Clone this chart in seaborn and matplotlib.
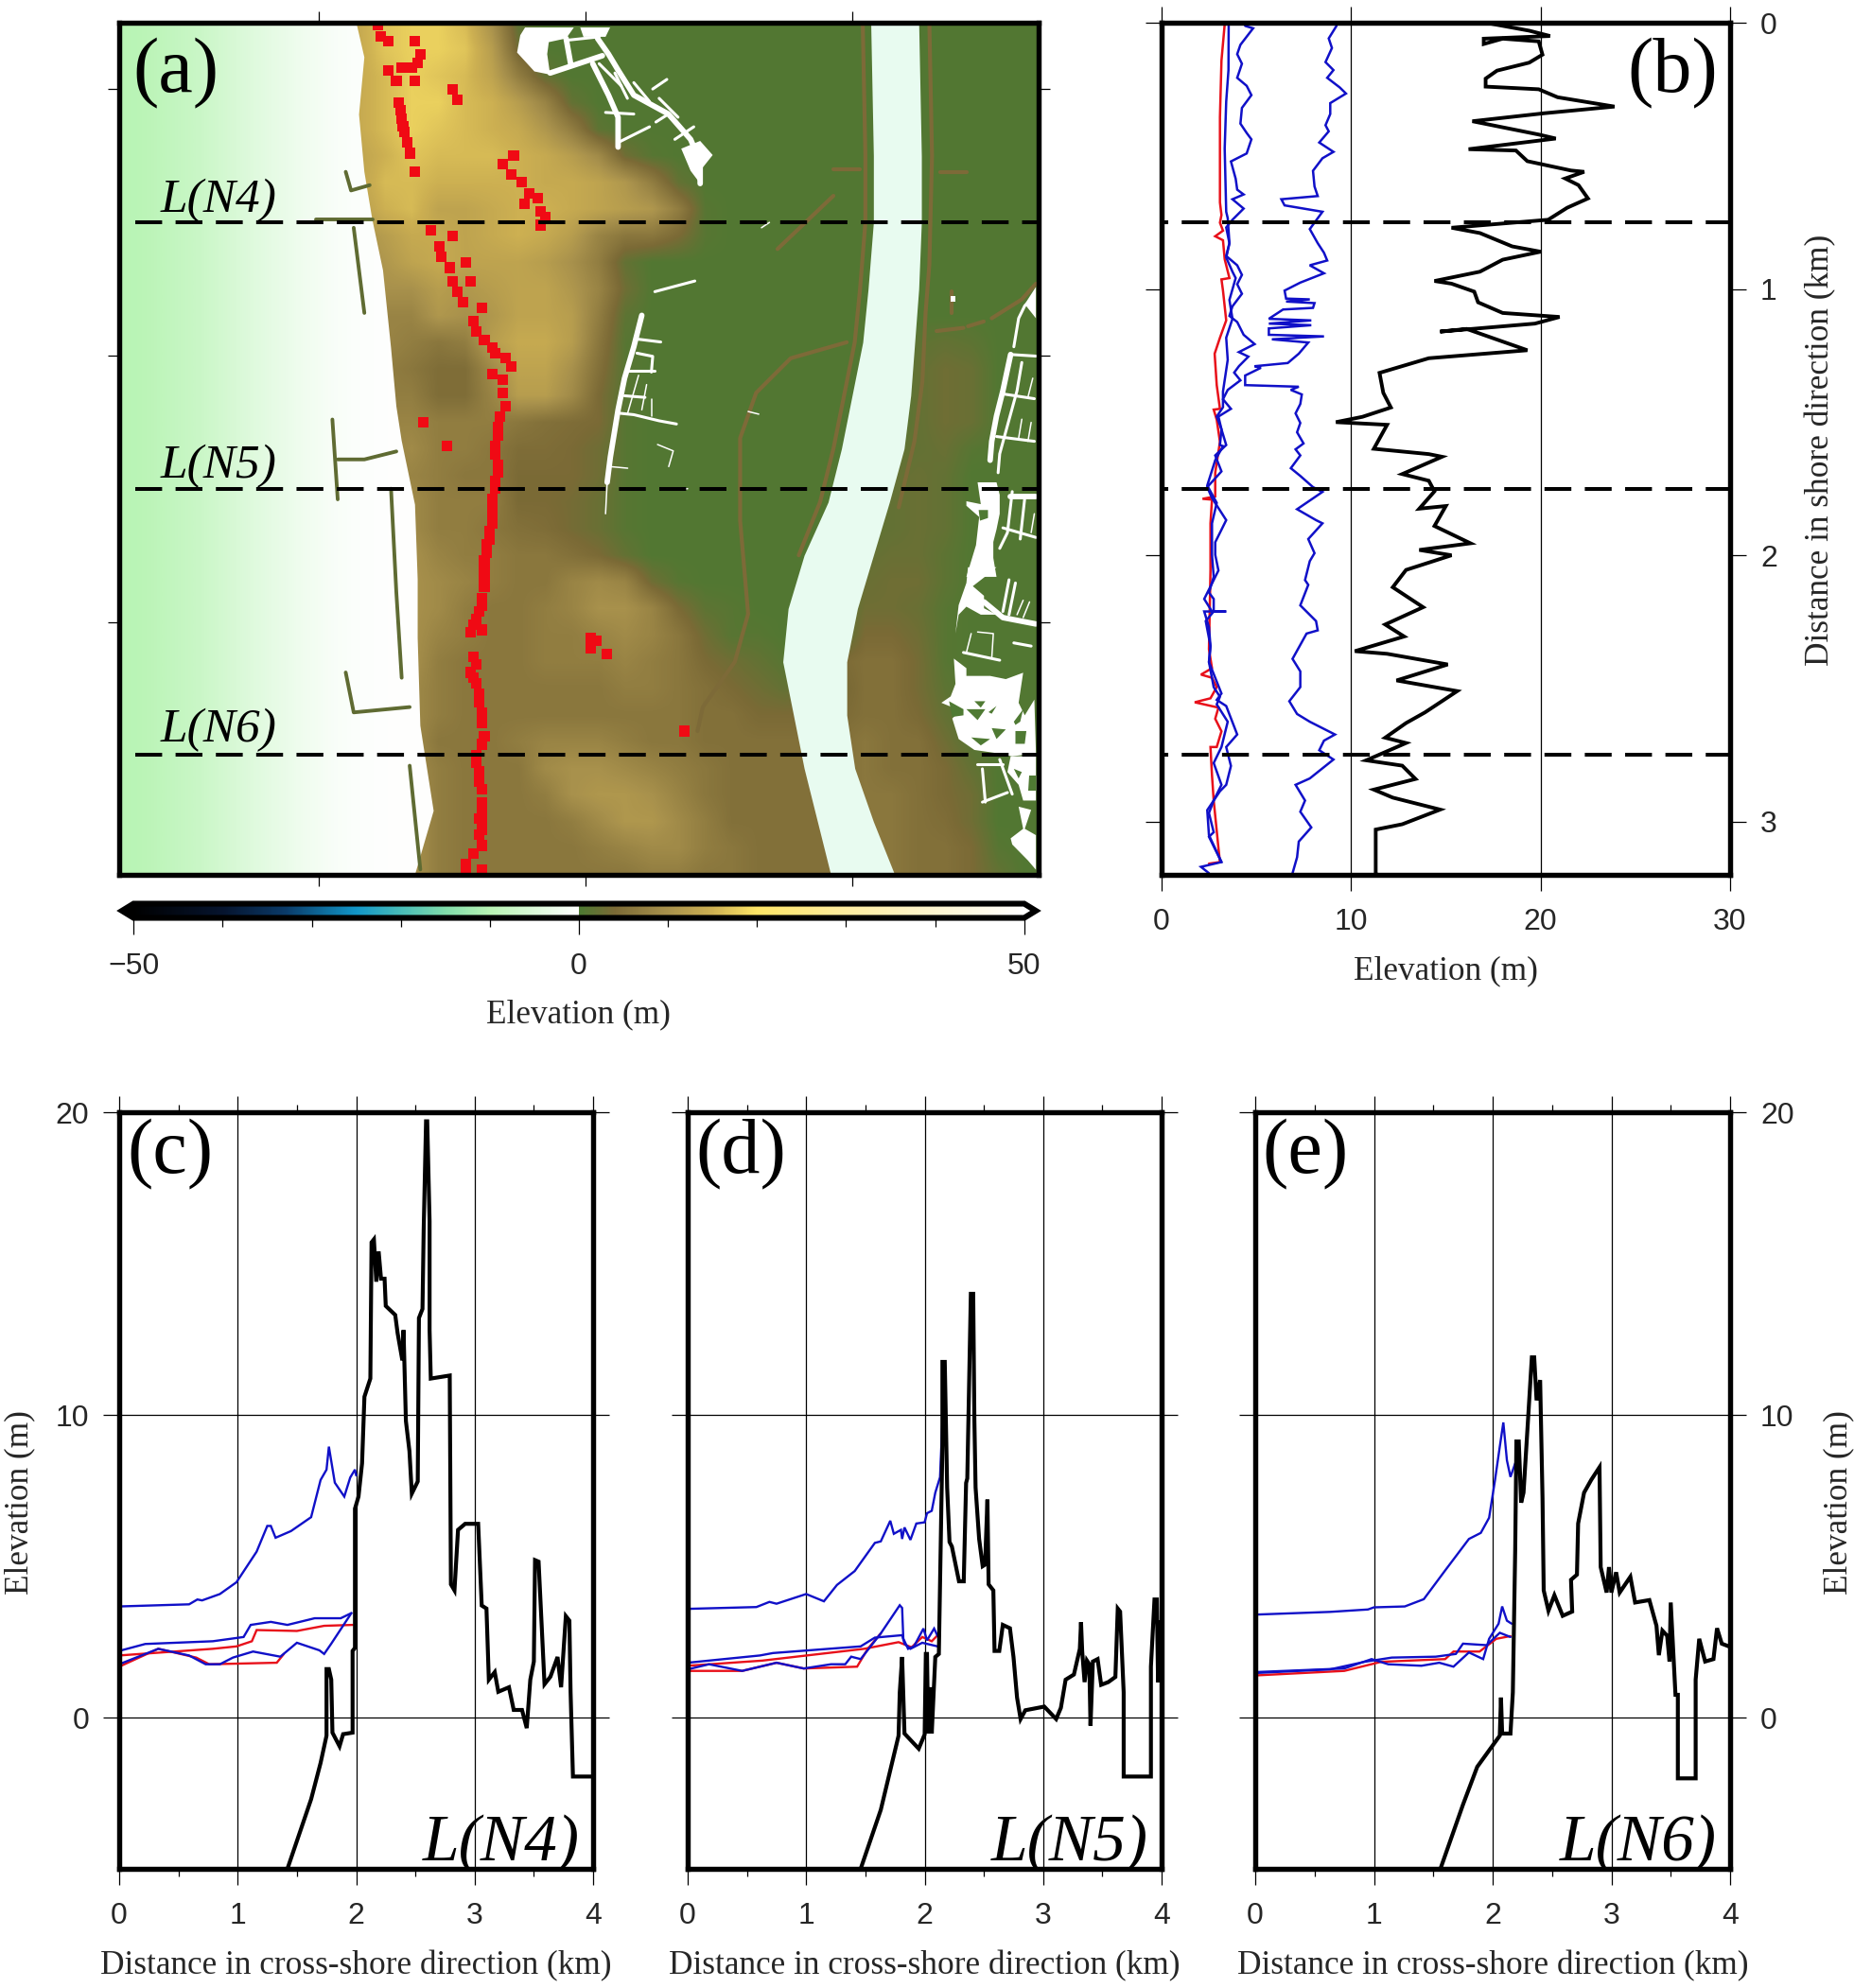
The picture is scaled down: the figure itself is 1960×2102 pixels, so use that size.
import numpy as np
import matplotlib
matplotlib.use('Agg')
import matplotlib.pyplot as plt
from matplotlib.cm import ScalarMappable
from matplotlib.colors import LinearSegmentedColormap, Normalize
from matplotlib.patches import Polygon
import seaborn as sns

# ---- panel (a) map, all in km / m ----
sea_x = [0, 0.1, 0.2, 0.3, 0.4, 0.5, 0.6, 0.7, 0.8, 0.9, 1.0, 1.1, 1.2]
sea_depth = [-10, -9.5, -8.5, -7.5, -6, -4.5, -3.2, -2, -1, -0.4, -0.2, -0.1, -0.1]

land_x0 = 0.8
land_step = 0.1
# columns from x=0.8 up to x=2.7, one row per 0.1 km alongshore
land_rows = [
    [12, 14, 17, 18, 18, 16, 10, 1.5],
    [12, 14, 17, 18, 18, 17, 12, 3],
    [12, 14, 16, 18, 17, 16, 13, 7, 2],
    [12, 14, 16, 18, 18, 16, 15, 12, 8, 2],
    [12, 14, 16, 18, 17, 16, 15, 14, 11, 7, 1.5],
    [12, 13, 15, 17, 16, 16, 16, 15, 14, 12, 9, 3, 1],
    [12, 13, 16, 16, 15, 15, 15, 15, 14, 14, 13, 11, 7, 2],
    [11, 12, 15, 16, 13, 13, 14, 15, 15, 14, 13, 12, 11, 7, 1],
    [9, 10, 12, 14, 14, 13, 14, 15, 14, 12, 8, 6, 6, 4, 1],
    [7, 9, 11, 13, 14, 13, 13, 13, 12, 10, 7, 2],
    [5, 8, 10, 10, 12, 11, 12, 13, 13, 11, 8, 3],
    [5, 7, 8, 8, 11, 10, 11, 13, 13, 12, 7, 1.5],
    [5, 6, 8, 7, 6, 7, 12, 14, 14, 12, 6, 1],
    [5, 6, 7, 6, 4.5, 4.5, 9, 13, 13, 10, 5, 1],
    [5, 6, 7, 7, 4.5, 4.5, 8, 12, 12, 9, 4, 1],
    [5, 6, 8, 8, 7, 7, 7, 6, 5, 4.5, 4, 1],
    [4, 6, 8, 9, 7, 7, 6, 4.5, 4.5, 4, 3, 1],
    [4, 6, 8, 8, 7, 6, 6, 4, 4, 4, 3, 1],
    [4, 5, 8, 9, 7, 7, 7, 4, 4, 3.5, 2.5, 1],
    [4, 5, 8, 9, 7, 7, 6, 5, 4.5, 3.5, 2.5, 1],
    [4, 5, 8, 10, 8, 7, 7, 6, 6, 5, 4, 2],
    [4, 5, 8, 10, 9, 8, 7, 6, 6, 8, 9, 8, 3, 1],
    [4, 5, 9, 10, 9, 7, 6, 6, 7, 8, 10, 10, 8, 4, 1.5, 1],
    [4, 6, 9, 10, 8, 7, 6, 6, 7, 7, 8, 9, 8, 6, 3, 1, 1],
    [4, 7, 9, 10, 7, 6, 6, 6, 7, 7, 7, 8, 7, 6, 4, 3, 2, 1, 3, 4],
    [4, 7, 9, 9, 7, 6, 6, 6, 6, 6, 6, 7, 7, 6, 5, 4, 3, 2, 3, 3],
    [5, 7, 9, 9, 7, 6, 6, 6, 6, 6, 6, 6, 6, 6, 5, 5, 4, 4, 4, 4],
    [5, 8, 10, 9, 6, 6, 6, 7, 8, 8, 8, 7, 6, 6, 5, 5, 5, 5, 5, 5],
    [5, 8, 10, 9, 7, 6, 6, 6, 9, 10, 10, 9, 8, 7, 6, 5, 5, 5, 5, 5],
    [5, 8, 10, 10, 7, 6, 6, 6, 7, 10, 11, 11, 10, 8, 6, 5, 5, 5, 5, 5],
    [5, 8, 11, 10, 7, 6, 6, 6, 6, 7, 9, 11, 11, 9, 7, 5, 5, 5, 5, 5],
    [5, 8, 11, 10, 7, 6, 6, 6, 6, 6, 7, 8, 9, 9, 7, 6, 5, 5, 5, 5],
    [5, 8, 11, 10, 7, 6, 6, 6, 6, 6, 6, 6, 7, 7, 6, 6, 5, 5, 5, 5],
]
# east of the river: columns from x=2.8
east_rows = [[], [], [], [], [], [], [], [], [], [], [], [],
             [0.5, 0.5, 1.5, 2, 1.5],
             [0.5, 0.5, 2, 3, 2.5],
             [0.5, 0.5, 2, 3, 2.5],
             [0.5, 0.5, 2, 3, 2.5],
             [0.5, 1.5, 2, 2.5, 1],
             [1.5, 2, 2.5, 2],
             [1.5, 2, 2.5, 2],
             [1.5, 2, 2.5, 2],
             [2, 2.5, 2.5, 1.5],
             [2.5, 3, 3, 1.5],
             [3, 3, 2.5, 1],
             [4, 4, 3, 1],
             [5, 5, 3.5, 1],
             [5, 5, 3.5, 1.5],
             [5, 5, 4, 2],
             [6, 5, 5, 3, 1],
             [6, 5, 5, 4, 2],
             [6, 6, 5, 4, 3],
             [6, 6, 5, 4.5, 3],
             [6, 6, 5, 5, 4, 1],
             [6, 6, 5, 5, 4, 2]]
land_green = 0.5
west_cols = 20
east_cols = 8

shore_x = [0.89, 0.92, 0.90, 0.92, 0.95, 0.99, 1.02, 1.04, 1.06, 1.11, 1.12, 1.12, 1.13, 1.18, 1.11]
shore_y = [0, 0.13, 0.345, 0.56, 0.74, 0.93, 1.22, 1.44, 1.57, 1.81, 2.09, 2.31, 2.64, 2.96, 3.2]

river_y = [0, 0.5, 0.75, 1.0, 1.2, 1.4, 1.6, 1.8, 2.0, 2.2, 2.4, 2.6, 2.8, 3.0, 3.2]
river_left = [2.82, 2.83, 2.83, 2.81, 2.79, 2.75, 2.71, 2.66, 2.57, 2.51, 2.49, 2.53, 2.57, 2.62, 2.67]
river_right = [3.0, 3.01, 3.01, 3.0, 2.985, 2.97, 2.945, 2.89, 2.83, 2.77, 2.73, 2.73, 2.76, 2.83, 2.91]

road_lines = [
    ([2.79, 2.80, 2.80, 2.78, 2.76, 2.72, 2.68, 2.63, 2.55], [0, 0.5, 0.75, 1.0, 1.2, 1.4, 1.6, 1.8, 2.0]),
    ([3.04, 3.05, 3.04, 3.026, 3.014, 2.984, 2.925], [0, 0.5, 0.909, 1.087, 1.347, 1.572, 1.82]),
    ([2.73, 2.52, 2.39, 2.33, 2.33, 2.36, 2.31, 2.19, 2.17], [1.2, 1.26, 1.39, 1.56, 1.87, 2.22, 2.4, 2.57, 2.66]),
    ([3.067, 3.168], [1.158, 1.146]),
    ([3.185, 3.244], [1.14, 1.122]),
    ([3.274, 3.387, 3.44], [1.11, 1.039, 0.98]),
    ([2.47, 2.68], [0.85, 0.65]),
    ([2.68, 2.78], [0.55, 0.55]),
    ([3.08, 3.18], [0.56, 0.56]),
    ([3.125, 3.125], [1.01, 1.09]),
]

jetties = [
    ([0.74, 0.95], [0.74, 0.74]),
    ([0.85, 0.87, 0.94], [0.56, 0.63, 0.61]),
    ([0.88, 0.92], [0.77, 1.09]),
    ([0.80, 0.82], [1.49, 1.79]),
    ([0.82, 0.92, 1.04], [1.64, 1.64, 1.61]),
    ([1.02, 1.04, 1.06], [1.75, 2.14, 2.46]),
    ([0.85, 0.88, 1.09], [2.44, 2.59, 2.57]),
    ([1.09, 1.13], [2.79, 3.18]),
]

# white (no data) streets and blocks: line width in points goes with each group
urban_thick = [
    ([1.677, 1.694], [0.059, 0.154]),
    ([1.617, 1.813], [0.189, 0.124]),
    ([1.795, 1.836, 1.872, 1.931, 2.061, 2.144, 2.18, 2.18], [0.059, 0.118, 0.178, 0.272, 0.343, 0.438, 0.521, 0.604]),
    ([1.777, 1.836, 1.872, 1.872], [0.154, 0.272, 0.355, 0.467]),
    ([1.961, 1.931, 1.896, 1.872, 1.843, 1.831], [1.099, 1.217, 1.336, 1.454, 1.631, 1.726]),
    ([3.345, 3.316, 3.292, 3.274, 3.268], [1.246, 1.382, 1.477, 1.572, 1.643]),
    ([3.345, 3.44], [1.779, 1.779]),
    ([3.245, 3.316, 3.44], [2.175, 2.234, 2.258]),
]
urban_thin = [
    ([1.688, 1.801], [0.065, 0.053]),
    ([1.825, 1.931], [0.337, 0.343]),
    ([1.872, 1.99], [0.45, 0.391]),
    ([2.002, 2.055], [0.249, 0.213]),
    ([2.026, 2.097], [0.284, 0.355]),
    ([2.014, 2.061], [0.373, 0.343]),
    ([2.085, 2.156], [0.438, 0.391]),
    ([1.86, 1.907], [0.189, 0.284]),
    ([1.931, 1.99], [0.225, 0.296]),
    ([1.801, 1.884], [0.154, 0.237]),
    ([1.872, 1.931, 2.026, 2.091], [1.466, 1.472, 1.495, 1.507]),
    ([1.896, 1.973], [1.401, 1.407]),
    ([1.908, 2.008], [1.306, 1.306]),
    ([1.943, 2.032], [1.188, 1.199]),
    ([1.943, 2.002, 1.997], [1.241, 1.253, 1.312]),
    ([2.01, 2.16], [1.01, 0.97]),
    ([3.434, 3.398, 3.375, 3.357], [1.027, 1.063, 1.11, 1.217]),
    ([3.345, 3.44], [1.246, 1.252]),
    ([3.387, 3.369, 3.333, 3.304, 3.298], [1.276, 1.382, 1.513, 1.619, 1.69]),
    ([3.316, 3.434], [1.394, 1.412]),
    ([3.292, 3.434], [1.554, 1.572]),
    ([3.351, 3.333, 3.304], [1.761, 1.915, 1.974]),
    ([3.398, 3.381], [1.785, 1.939]),
    ([3.316, 3.44], [1.897, 1.933]),
    ([3.339, 3.316], [2.092, 2.211]),
    ([3.363, 3.339], [2.104, 2.223]),
    ([3.168, 3.304], [2.365, 2.394]),
    ([3.357, 3.422], [2.329, 2.341]),
    ([3.239, 3.25], [2.802, 2.927]),
    ([3.239, 3.333], [2.927, 2.891]),
    ([3.304, 3.351], [2.767, 2.897]),
    ([3.221, 3.316], [2.785, 2.785]),
]
urban_fine = [
    ([1.831, 1.825], [1.726, 1.844]),
    ([1.949, 1.908], [1.324, 1.466]),
    ([1.979, 1.961], [1.359, 1.454]),
    ([1.997, 1.997], [1.412, 1.478]),
    ([1.843, 1.908], [1.667, 1.673]),
    ([2.02, 2.079, 2.062], [1.584, 1.608, 1.667]),
    ([2.103, 2.133], [1.752, 1.75]),
    ([3.428, 3.41], [1.335, 1.406]),
    ([3.387, 3.375], [1.489, 1.56]),
    ([3.422, 3.41], [1.501, 1.572]),
    ([3.434, 3.422], [1.844, 1.915]),
    ([3.392, 3.369], [2.169, 2.223]),
    ([3.416, 3.392], [2.175, 2.234]),
    ([3.221, 3.28, 3.274], [2.288, 2.294, 2.388]),
    ([3.197, 3.179], [2.294, 2.365]),
    ([2.36, 2.40], [1.46, 1.47]),
    ([2.41, 2.44], [0.77, 0.75]),
]
urban_blocks = [
    ([1.523, 1.706, 1.677, 1.612, 1.606, 1.617, 1.558, 1.493, 1.505], [0.018, 0.018, 0.059, 0.073, 0.118, 0.195, 0.183, 0.112, 0.047]),
    ([1.73, 1.842, 1.825, 1.742], [0.018, 0.018, 0.053, 0.053]),
    ([2.109, 2.18, 2.227, 2.18, 2.18, 2.144], [0.473, 0.444, 0.497, 0.556, 0.604, 0.556]),
    ([3.44, 3.44, 3.398], [0.992, 1.11, 1.057]),
    ([3.221, 3.292, 3.304, 3.304, 3.292, 3.28, 3.28, 3.292, 3.179, 3.215, 3.227, 3.179, 3.179, 3.233],
     [1.726, 1.726, 1.773, 1.844, 1.903, 1.95, 2.01, 2.081, 2.081, 1.962, 1.856, 1.814, 1.797, 1.808]),
    ([3.185, 3.292, 3.256, 3.203, 3.245, 3.245, 3.292, 3.233, 3.179, 3.15, 3.138, 3.15, 3.179],
     [2.045, 2.045, 2.075, 2.116, 2.152, 2.199, 2.223, 2.223, 2.193, 2.223, 2.294, 2.187, 2.104]),
    ([3.132, 3.179, 3.179, 3.268, 3.327, 3.392, 3.375, 3.398, 3.434, 3.44, 3.351, 3.292, 3.209, 3.15, 3.126, 3.156, 3.085, 3.12, 3.138],
     [2.388, 2.424, 2.453, 2.453, 2.465, 2.441, 2.554, 2.601, 2.542, 2.743, 2.755, 2.743, 2.731, 2.69, 2.613, 2.583, 2.554, 2.53, 2.483]),
    ([3.345, 3.44, 3.44, 3.392, 3.375, 3.333], [2.755, 2.755, 2.921, 2.921, 2.862, 2.814]),
    ([3.375, 3.422, 3.398, 3.44, 3.44, 3.41, 3.351, 3.345, 3.392], [2.944, 2.956, 3.027, 3.051, 3.181, 3.146, 3.086, 3.063, 3.027]),
    ([3.12, 3.136, 3.136, 3.12], [1.027, 1.027, 1.049, 1.049]),
]
urban_holes = [
    ([3.179, 3.25, 3.221], [2.578, 2.578, 2.619]),
    ([3.274, 3.327, 3.292], [2.649, 2.654, 2.69]),
    ([3.197, 3.268, 3.233], [2.684, 2.69, 2.714]),
    ([3.262, 3.292, 3.274], [2.589, 2.566, 2.595]),
    ([3.363, 3.404, 3.398, 3.363], [2.66, 2.66, 2.708, 2.708]),
    ([3.357, 3.392, 3.381, 3.363], [2.625, 2.578, 2.625, 2.637]),
    ([3.114, 3.168, 3.168, 3.126], [2.548, 2.578, 2.601, 2.607]),
    ([3.209, 3.25, 3.233], [2.548, 2.548, 2.572]),
    ([3.357, 3.387, 3.375], [2.802, 2.814, 2.838]),
    ([3.416, 3.44, 3.44, 3.41], [2.826, 2.826, 2.885, 2.885]),
    ([3.225, 3.26, 3.26, 3.23], [1.83, 1.83, 1.86, 1.87]),
]

red_x = [0.97, 0.98, 1.01, 1.11, 1.13, 1.12, 1.10, 1.01, 1.04, 1.06, 1.11, 1.25, 1.27, 1.05, 1.055, 1.06, 1.065, 1.07, 1.08, 1.09, 1.11,
         1.48, 1.44, 1.47, 1.51, 1.54, 1.52, 1.57, 1.58, 1.60, 1.58,
         1.17, 1.25, 1.20, 1.21, 1.30, 1.24, 1.25, 1.32, 1.27, 1.29,
         1.36, 1.33, 1.34, 1.37, 1.40, 1.41, 1.45, 1.47, 1.40, 1.44, 1.44, 1.45, 1.43, 1.42, 1.42, 1.41, 1.41, 1.42, 1.42, 1.41, 1.41, 1.40, 1.40, 1.40,
         1.40, 1.39, 1.39, 1.38, 1.38, 1.37, 1.37, 1.37, 1.37, 1.36, 1.36, 1.35, 1.34, 1.33, 1.32, 1.36,
         1.33, 1.32, 1.33, 1.34, 1.35, 1.36, 1.37, 1.34, 1.35, 1.35, 1.36, 1.36, 1.36, 1.35, 1.33, 1.30, 1.36, 1.30,
         1.14, 1.23, 1.77, 1.79, 1.77, 1.83, 2.12,
         1.34, 1.35, 1.36, 1.36, 1.34, 1.36, 1.35, 1.36, 1.36]
red_y = [0.01, 0.05, 0.07, 0.07, 0.12, 0.15, 0.17, 0.18, 0.22, 0.17, 0.22, 0.25, 0.29, 0.30, 0.33, 0.36, 0.39, 0.41, 0.45, 0.49, 0.56,
         0.50, 0.53, 0.57, 0.60, 0.64, 0.68, 0.66, 0.71, 0.73, 0.76,
         0.78, 0.80, 0.84, 0.88, 0.90, 0.92, 0.97, 0.97, 1.01, 1.05,
         1.07, 1.12, 1.16, 1.19, 1.22, 1.24, 1.26, 1.29, 1.32, 1.34, 1.39, 1.44, 1.48, 1.52, 1.55, 1.59, 1.62, 1.66, 1.69, 1.72, 1.75, 1.79, 1.82, 1.85,
         1.88, 1.91, 1.94, 1.96, 1.99, 2.02, 2.05, 2.09, 2.12, 2.16, 2.19, 2.21, 2.24, 2.26, 2.29, 2.28,
         2.38, 2.44, 2.46, 2.48, 2.55, 2.63, 2.68, 2.75, 2.81, 2.85, 2.88, 2.97, 3.01, 3.05, 3.12, 3.16, 3.18, 3.19,
         1.50, 1.59, 2.31, 2.32, 2.35, 2.37, 2.66,
         2.41, 2.52, 2.59, 2.71, 2.78, 2.93, 2.99, 3.03, 3.09]

section_y = [0.75, 1.75, 2.75]
section_names = ['L(N4)', 'L(N5)', 'L(N6)']

# ---- panel (b) ----
b_black_e = [17.1, 19.4, 20.5, 17.0, 17.0, 18.0, 19.9, 20.1, 19.4, 17.7, 17.1, 17.1, 19.9, 20.9, 23.9, 20.2, 16.4, 19.9, 20.8, 16.2, 18.7, 19.3, 21.6, 22.3, 21.3, 22.0, 22.5, 21.4, 20.4, 15.3, 16.8, 18.5, 20.0, 18.0, 16.8, 14.4, 15.3, 16.5, 16.7, 18.0, 21.0, 19.7, 14.7, 16.1, 19.3, 14.1, 11.5, 11.7, 12.1, 10.6, 9.2, 11.9, 11.2, 14.1, 14.8, 12.7, 14.1, 14.4, 13.6, 15.0, 14.4, 16.3, 13.6, 15.3, 12.9, 12.2, 13.8, 11.8, 12.8, 10.2, 11.9, 15.1, 12.4, 15.6, 13.9, 12.9, 11.8, 12.9, 10.8, 12.7, 13.4, 11.2, 12.2, 14.7, 12.7, 11.3, 11.3, 11.4]
b_black_d = [0.0, 0.03, 0.05, 0.06, 0.08, 0.06, 0.07, 0.12, 0.15, 0.18, 0.21, 0.24, 0.25, 0.28, 0.315, 0.34, 0.37, 0.42, 0.435, 0.475, 0.48, 0.52, 0.555, 0.56, 0.585, 0.61, 0.66, 0.695, 0.74, 0.77, 0.79, 0.84, 0.86, 0.89, 0.935, 0.97, 0.98, 1.01, 1.05, 1.09, 1.105, 1.13, 1.16, 1.15, 1.23, 1.26, 1.315, 1.39, 1.445, 1.48, 1.5, 1.51, 1.6, 1.62, 1.63, 1.695, 1.72, 1.76, 1.825, 1.815, 1.89, 1.955, 1.98, 2.0, 2.055, 2.12, 2.195, 2.26, 2.305, 2.36, 2.37, 2.41, 2.47, 2.51, 2.59, 2.63, 2.685, 2.705, 2.77, 2.79, 2.84, 2.88, 2.91, 2.955, 3.01, 3.03, 3.195, 3.2]

b_blue1_e = [9.23, 8.82, 8.99, 8.65, 9.07, 8.74, 9.40, 9.73, 8.90, 8.90, 8.65, 8.82, 8.32, 9.07, 8.49, 7.99, 8.07, 8.24, 6.32, 6.49, 8.49, 7.82, 8.24, 8.57, 8.74, 7.82, 8.57, 7.32, 6.49, 6.57, 7.82, 6.57, 8.07, 7.99, 6.41, 5.66, 7.90, 5.66, 7.90, 5.66, 5.66, 8.57, 5.82, 7.74, 7.24, 6.66, 4.91, 5.24, 4.41, 4.41, 7.24, 6.82, 7.40, 7.32, 7.07, 7.32, 7.15, 7.49,
             7.07, 7.32, 6.82, 7.32, 7.99, 8.49, 7.15, 8.15, 8.49, 7.74, 8.07, 7.82, 7.57, 7.74, 7.32, 8.15, 8.24, 7.65, 6.91, 7.32, 7.32, 6.74, 7.15, 7.82, 9.15, 8.57, 8.32, 9.07, 7.82, 7.07, 7.57, 7.32, 7.90, 7.24, 7.15, 6.91]
b_blue1_d = [0.012, 0.059, 0.095, 0.148, 0.178, 0.207, 0.243, 0.266, 0.302, 0.343, 0.385, 0.408, 0.450, 0.485, 0.509, 0.556, 0.615, 0.651, 0.663, 0.686, 0.710, 0.775, 0.828, 0.864, 0.893, 0.911, 0.941, 0.976, 1.006, 1.036, 1.039, 1.047, 1.053, 1.071, 1.077, 1.112, 1.118, 1.130, 1.136, 1.148, 1.172, 1.178, 1.189, 1.201, 1.243, 1.278, 1.290, 1.296, 1.325, 1.361, 1.367, 1.379, 1.396, 1.432, 1.467, 1.503, 1.538, 1.580,
             1.602, 1.625, 1.673, 1.702, 1.744, 1.762, 1.827, 1.868, 1.880, 1.939, 1.992, 2.022, 2.093, 2.111, 2.188, 2.247, 2.282, 2.294, 2.389, 2.436, 2.495, 2.548, 2.596, 2.625, 2.673, 2.696, 2.732, 2.767, 2.838, 2.862, 2.921, 2.963, 3.022, 3.075, 3.134, 3.194]

b_blue2_e = [4.41, 4.83, 4.16, 3.99, 4.24, 3.99, 4.49, 4.74, 4.24, 4.16, 4.49, 4.74, 4.49, 3.66, 3.91, 3.99, 4.33, 3.74, 4.33, 3.74, 3.41, 3.58, 3.41, 3.99, 4.24, 3.99, 4.24, 3.74, 3.58, 3.99, 4.33, 4.91, 4.08, 4.58, 4.08, 3.83, 4.16, 3.49, 3.24, 3.66, 3.0, 3.16, 3.41,
             2.83, 3.16, 2.41, 2.66, 3.41, 3.16, 2.83, 2.83, 3.0, 2.75, 2.25, 2.66, 3.41, 2.25, 2.5, 2.58, 2.5, 2.83, 3.16, 2.91, 3.41, 3.99, 3.41, 3.66, 3.41, 3.08, 2.41, 2.5, 3.16, 2.08, 2.5]
b_blue2_d = [0.012, 0.021, 0.083, 0.118, 0.154, 0.207, 0.237, 0.272, 0.320, 0.379, 0.414, 0.438, 0.491, 0.521, 0.586, 0.627, 0.645, 0.663, 0.698, 0.740, 0.769, 0.828, 0.876, 0.911, 0.947, 0.982, 1.018, 1.065, 1.101, 1.124, 1.172, 1.207, 1.237, 1.254, 1.290, 1.314, 1.343, 1.379, 1.414, 1.450, 1.479, 1.527, 1.586,
             1.625, 1.685, 1.744, 1.785, 1.868, 1.904, 1.951, 1.998, 2.057, 2.093, 2.164, 2.211, 2.211, 2.211, 2.270, 2.341, 2.401, 2.460, 2.519, 2.543, 2.566, 2.673, 2.720, 2.791, 2.862, 2.886, 2.957, 3.051, 3.152, 3.170, 3.194]

b_blue3_e = [3.54, 3.53, 3.41, 3.33, 3.41, 3.49, 3.58, 3.41, 3.74, 3.91, 3.58, 3.74, 3.41, 3.49, 3.24, 3.24, 2.91, 3.16, 3.08, 3.24, 2.83, 2.41, 2.91, 2.66, 2.66, 2.75, 2.5, 2.75, 2.75, 2.33, 2.58, 2.5, 2.75, 3.08, 2.91, 3.49, 3.16, 2.75, 3.16, 2.75, 2.5, 2.75, 2.5, 3.16]
b_blue3_d = [0.012, 0.178, 0.296, 0.473, 0.710, 0.734, 0.828, 0.882, 0.935, 0.959, 1.041, 1.112, 1.183, 1.266, 1.385, 1.444, 1.479, 1.527, 1.586, 1.590, 1.643, 1.738, 1.803, 1.880, 1.998, 2.081, 2.140, 2.164, 2.211, 2.247, 2.341, 2.401, 2.495, 2.531, 2.560, 2.625, 2.720, 2.780, 2.862, 2.921, 2.968, 3.040, 3.057, 3.152]

b_red_e = [3.33, 3.16, 3.08, 3.08, 3.08, 3.16, 3.08, 3.24, 2.83, 3.24, 3.33, 3.58, 3.16, 3.24, 3.41, 3.08, 2.80, 2.91, 3.08, 2.75, 2.91, 3.08,
           2.83, 2.83, 2.16, 2.66, 2.58, 2.58, 2.5, 2.66, 2.08, 2.66, 2.91, 2.58, 1.75, 3.0, 2.83, 3.16, 2.91, 2.58, 2.66, 2.75, 3.0, 3.08, 2.5]
b_red_d = [0.006, 0.142, 0.355, 0.592, 0.675, 0.722, 0.751, 0.781, 0.802, 0.817, 0.888, 0.959, 0.964, 1.006, 1.118, 1.183, 1.243, 1.361, 1.450, 1.453, 1.491, 1.574,
           1.690, 1.779, 1.788, 1.791, 1.880, 2.057, 2.353, 2.424, 2.448, 2.460, 2.495, 2.537, 2.552, 2.572, 2.614, 2.661, 2.720, 2.720, 2.826, 2.921, 3.099, 3.152, 3.158]

# ---- panels (c) (d) (e): distance km, elevation m ----
c_black_x = [1.42, 1.62, 1.70, 1.75, 1.75, 1.77, 1.79, 1.80, 1.86, 1.89, 1.97, 1.97, 1.99, 1.99, 2.02, 2.05, 2.07, 2.12, 2.13, 2.15, 2.17, 2.19, 2.21, 2.24, 2.25, 2.33, 2.35, 2.39, 2.40, 2.42, 2.45, 2.47, 2.52, 2.53, 2.56, 2.57, 2.59, 2.60, 2.62, 2.62, 2.63, 2.79, 2.80, 2.83, 2.86, 2.92, 3.03, 3.06, 3.10, 3.12, 3.17, 3.20, 3.29, 3.33, 3.40, 3.44, 3.47, 3.50, 3.51, 3.54, 3.59, 3.64, 3.70, 3.73, 3.77, 3.80, 3.81, 3.83, 4.0]
c_black_y = [-5.0, -2.7, -1.5, -0.6, 1.6, 1.6, 1.25, -0.5, -0.95, -0.55, -0.5, 2.2, 2.3, 6.9, 7.3, 8.4, 10.6, 11.2, 15.7, 15.8, 14.4, 15.4, 14.5, 14.5, 13.6, 13.3, 12.7, 11.8, 12.8, 9.8, 8.8, 7.4, 7.8, 13.2, 13.5, 16.1, 19.7, 19.7, 16.4, 12.8, 11.2, 11.3, 4.4, 4.2, 6.2, 6.4, 6.4, 3.7, 3.6, 1.25, 1.5, 0.85, 1.0, 0.25, 0.25, -0.35, 1.25, 1.85, 5.2, 5.15, 1.1, 1.35, 2.0, 1.0, 3.35, 3.2, 0.85, -1.95, -1.95]
c_blue1_x = [0, 0.59, 0.66, 0.70, 0.85, 0.99, 1.16, 1.25, 1.28, 1.32, 1.45, 1.62, 1.70, 1.75, 1.77, 1.82, 1.90, 1.95, 1.99, 2.0]
c_blue1_y = [3.67, 3.74, 3.9, 3.87, 4.08, 4.47, 5.48, 6.33, 6.33, 5.94, 6.16, 6.62, 7.85, 8.19, 8.95, 7.76, 7.3, 7.93, 8.19, 8.0]
c_blue2_x = [0, 0.22, 0.79, 1.05, 1.11, 1.28, 1.42, 1.65, 1.87, 1.96]
c_blue2_y = [2.2, 2.43, 2.52, 2.66, 3.06, 3.16, 3.06, 3.28, 3.28, 3.45]
c_blue3_x = [0, 0.33, 0.59, 0.73, 0.85, 0.96, 1.13, 1.36, 1.5, 1.69, 1.73, 1.79, 1.96]
c_blue3_y = [1.76, 2.27, 2.05, 1.76, 1.76, 1.98, 2.18, 2.01, 2.47, 2.22, 2.1, 2.44, 3.45]
c_red1_x = [0, 0.79, 0.99, 1.12, 1.16, 1.5, 1.73, 1.97]
c_red1_y = [2.05, 2.27, 2.35, 2.52, 2.89, 2.86, 3.03, 3.06]
c_red2_x = [0, 0.33, 0.65, 0.76, 1.33, 1.39]
c_red2_y = [1.68, 2.27, 1.98, 1.76, 1.81, 2.1]

d_black_x = [1.46, 1.63, 1.78, 1.79, 1.81, 1.83, 1.95, 2.0, 2.01, 2.02, 2.03, 2.05, 2.06, 2.09, 2.12, 2.15, 2.15, 2.17, 2.19, 2.21, 2.23, 2.29, 2.33, 2.35, 2.36, 2.39, 2.41, 2.42, 2.43, 2.46, 2.49, 2.51, 2.53, 2.54, 2.58, 2.59, 2.63, 2.66, 2.72, 2.75, 2.78, 2.81, 2.85, 3.01, 3.11, 3.15, 3.19, 3.26, 3.31, 3.32, 3.33, 3.35, 3.37, 3.39, 3.40, 3.42, 3.46, 3.49, 3.55, 3.61, 3.63, 3.65, 3.68, 3.68, 3.91, 3.91, 3.94, 3.96, 3.97, 3.98, 4.0]
d_black_y = [-5.0, -3.05, -0.6, 0.83, 2.0, -0.53, -1.03, -0.56, 2.1, 2.1, -0.53, 1.0, -0.53, 2.0, 2.1, 9.0, 11.75, 11.75, 7.6, 5.8, 5.65, 4.5, 4.5, 7.75, 7.9, 14.0, 14.0, 9.8, 7.6, 5.9, 5.0, 5.05, 7.2, 4.4, 4.2, 2.2, 2.2, 3.06, 2.95, 2.0, 0.66, -0.05, 0.24, 0.36, -0.05, 0.32, 1.25, 1.42, 2.27, 3.15, 2.18, 1.17, 1.88, 1.76, -0.27, 1.85, 1.93, 1.08, 1.17, 1.34, 3.6, 3.5, 0.83, -1.95, -1.95, 1.68, 3.9, 3.9, 1.17, 3.2, 1.17]
d_blue1_x = [0, 0.58, 0.69, 0.75, 1.0, 1.15, 1.26, 1.41, 1.58, 1.63, 1.71, 1.74, 1.8, 1.81, 1.83, 1.88, 1.93, 2.0, 2.02, 2.06, 2.09, 2.13, 2.15]
d_blue1_y = [3.59, 3.65, 3.82, 3.76, 4.08, 3.84, 4.38, 4.84, 5.77, 5.82, 6.5, 6.07, 6.2, 5.9, 6.28, 5.87, 6.41, 6.45, 6.75, 6.83, 7.43, 7.94, 9.8]
d_blue2_x = [0, 0.61, 0.72, 1.46, 1.58, 1.81, 1.83, 1.88, 1.98, 2.11]
d_blue2_y = [1.81, 2.05, 2.13, 2.35, 2.64, 2.72, 2.44, 2.27, 2.47, 2.35]
d_blue3_x = [0, 0.18, 0.46, 0.75, 0.98, 1.21, 1.33, 1.38, 1.46, 1.63, 1.79, 1.81, 1.82, 1.86, 1.91, 1.99, 2.02, 2.08, 2.11]
d_blue3_y = [1.59, 1.76, 1.54, 1.81, 1.62, 1.76, 1.76, 2.01, 1.93, 2.78, 3.71, 3.62, 2.61, 2.27, 2.35, 2.94, 2.55, 2.94, 2.69]
d_red1_x = [0, 0.63, 1.49, 1.78, 1.89, 1.98, 2.06, 2.11]
d_red1_y = [1.71, 1.88, 2.27, 2.49, 2.32, 2.66, 2.52, 2.72]
d_red2_x = [0, 0.46, 0.75, 0.98, 1.43, 1.52, 1.63]
d_red2_y = [1.54, 1.54, 1.81, 1.62, 1.68, 2.27, 2.78]

e_black_x = [1.56, 1.75, 1.87, 2.06, 2.07, 2.08, 2.15, 2.17, 2.19, 2.20, 2.22, 2.24, 2.26, 2.30, 2.33, 2.35, 2.37, 2.40, 2.42, 2.43, 2.47, 2.52, 2.59, 2.67, 2.66, 2.71, 2.72, 2.77, 2.83, 2.90, 2.91, 2.96, 2.98, 3.0, 3.04, 3.07, 3.16, 3.20, 3.32, 3.38, 3.40, 3.43, 3.47, 3.49, 3.50, 3.54, 3.56, 3.56, 3.71, 3.71, 3.74, 3.79, 3.86, 3.89, 3.93, 3.99]
e_black_y = [-5.0, -2.88, -1.63, -0.6, 0.66, -0.53, -0.53, 0.83, 5.56, 9.12, 9.12, 7.1, 7.43, 9.97, 11.9, 11.9, 10.48, 11.15, 7.26, 4.2, 3.53, 4.04, 3.36, 3.5, 4.55, 4.72, 6.41, 7.43, 7.85, 8.27, 4.97, 4.13, 4.97, 4.13, 4.8, 4.13, 4.65, 3.8, 3.88, 3.03, 2.06, 2.87, 2.7, 1.85, 3.8, 0.75, 0.75, -2.01, -2.01, 1.25, 2.6, 1.85, 1.93, 2.95, 2.44, 2.35]
e_blue1_x = [0, 0.63, 0.95, 1.0, 1.26, 1.42, 1.6, 1.8, 1.9, 1.97, 2.02, 2.06, 2.09, 2.12, 2.15, 2.19]
e_blue1_y = [3.4, 3.49, 3.57, 3.64, 3.67, 3.91, 4.86, 5.9, 6.1, 6.6, 7.85, 8.95, 9.75, 8.5, 7.95, 8.4]
e_blue2_x = [0, 0.75, 0.98, 1.12, 1.4, 1.55, 1.67, 1.8, 1.92, 1.97, 2.05, 2.08, 2.12, 2.16]
e_blue2_y = [1.5, 1.62, 1.93, 1.76, 1.71, 1.81, 1.68, 2.15, 1.93, 2.6, 3.1, 3.67, 3.2, 3.1]
e_blue3_x = [0, 0.63, 0.92, 1.15, 1.52, 1.69, 1.75, 1.95, 2.06, 2.15]
e_blue3_y = [1.47, 1.59, 1.84, 1.98, 2.01, 2.1, 2.44, 2.39, 2.8, 2.66]
e_red_x = [0, 0.75, 1.06, 1.6, 1.67, 1.89, 2.03, 2.15]
e_red_y = [1.39, 1.54, 1.84, 1.93, 2.18, 2.18, 2.6, 2.69]

# ---- look ----
sns.set_theme(style='white')
plt.rcParams['font.family'] = ['Liberation Sans', 'DejaVu Sans']

W, H = 1960, 2102
BLUE = '#1010c8'
RED = '#e8101a'
GREEN = '#4f7a33'
SERIF = 'Liberation Serif'
TICK_FS = 23
LABEL_FS = 25.4
FRAME = 3.9
DASH = (0, (7.05, 3.53))

elev_nodes = [(-50, '#000000'), (-40, '#06142e'), (-33, '#0a3a68'), (-25, '#1196c8'), (-20, '#48bcb8'),
              (-15, '#80dcaa'), (-10, '#b8f4b4'), (-0.01, '#ffffff'), (0, '#4c7a32'), (4, '#7b6a36'),
              (10, '#a8914c'), (15, '#cdb052'), (20, '#fde566'), (30, '#fdeca0'), (50, '#ffffff')]
elev_cmap = LinearSegmentedColormap.from_list('elev', [((v + 50) / 100, c) for v, c in elev_nodes], N=1024)
elev_norm = Normalize(-50, 50)


def add_axes_px(x0, y0, x1, y1):
    return fig.add_axes([x0 / W, 1 - y1 / H, (x1 - x0) / W, (y1 - y0) / H])


def profile(ax, x, y, color, lw):
    sns.lineplot(x=x, y=y, sort=False, estimator=None, color=color, linewidth=lw,
                 ax=ax, legend=False, solid_joinstyle='miter')


def frame(ax):
    for s in ax.spines.values():
        s.set_visible(True)
        s.set_linewidth(FRAME)
        s.set_color('black')
        s.set_zorder(20)


def serif_label(ax, text, px, py, size=59, style='normal', ha='center'):
    ax.text(px / W, 1 - py / H, text, transform=fig.transFigure, family=SERIF, fontsize=size,
            style=style, ha=ha, va='center', color='black', zorder=15, clip_on=True, clip_box=ax.bbox)


def set_xlabel_px(ax, text, px, py):
    ax.set_xlabel(text, family=SERIF, fontsize=LABEL_FS, va='center', ha='center')
    ax.xaxis.set_label_coords(px / W, 1 - py / H, transform=fig.transFigure)


def set_ylabel_px(ax, text, px, py):
    ax.set_ylabel(text, family=SERIF, fontsize=LABEL_FS, va='center', ha='center', rotation=90)
    ax.yaxis.set_label_coords(px / W, 1 - py / H, transform=fig.transFigure)


fig = plt.figure(figsize=(W / 100, H / 100), dpi=100)

# ---- (a) ----
ax_a = add_axes_px(126, 24, 1098, 925)
xmax_a = 3.45
sea = np.array([sea_depth])
sea_dx = sea_x[1] - sea_x[0]
ax_a.imshow(sea, extent=[sea_x[0] - sea_dx / 2, sea_x[-1] + sea_dx / 2, 3.3, -0.1], cmap=elev_cmap, norm=elev_norm,
            aspect='auto', interpolation='bilinear', interpolation_stage='data', zorder=1)

land = np.array([w + [land_green] * (west_cols - len(w)) + e + [land_green] * (east_cols - len(e))
                 for w, e in zip(land_rows, east_rows)])
land_im = ax_a.imshow(land, extent=[land_x0 - land_step / 2, land_x0 + (west_cols + east_cols - 0.5) * land_step, 3.25, -0.05],
                      cmap=elev_cmap, norm=elev_norm, aspect='auto', interpolation='bilinear',
                      interpolation_stage='data', zorder=2)
shore_poly = Polygon(list(zip(shore_x, shore_y)) + [(3.6, 3.2), (3.6, 0)], closed=True, transform=ax_a.transData)
land_im.set_clip_path(shore_poly)

for xs, ys in road_lines:
    ax_a.plot(xs, ys, color='#7d6a38', lw=3, zorder=3, solid_capstyle='round')
ax_a.fill_betweenx(river_y, river_left, river_right, color='#e8fbf0', lw=0, zorder=4)
for xs, ys in jetties:
    ax_a.plot(xs, ys, color='#5f6b32', lw=2.8, zorder=3)
for xs, ys in urban_blocks:
    ax_a.fill(xs, ys, color='white', lw=0, zorder=5)
for lines, lw in [(urban_thick, 4.2), (urban_thin, 2.2), (urban_fine, 1.1)]:
    for xs, ys in lines:
        ax_a.plot(xs, ys, color='white', lw=lw, zorder=5)
for xs, ys in urban_holes:
    ax_a.fill(xs, ys, color=GREEN, lw=0, zorder=6)

sns.scatterplot(x=red_x, y=red_y, marker='s', s=64, color='#f00a14', edgecolor='none', ax=ax_a, zorder=7, legend=False)

ax_a.set_xlim(0, xmax_a)
ax_a.set_ylim(3.2, 0)
ax_a.hlines(section_y, 0.06, xmax_a, color='black', lw=2.9, linestyles=DASH, zorder=8)
ax_a.set_xticks([0.75, 1.75, 2.75])
ax_a.set_yticks([0.25, 1.25, 2.25])
ax_a.tick_params(which='major', direction='out', length=8.5, width=0.9, color='black', top=True, right=True,
                 bottom=True, left=True, labelbottom=False, labelleft=False)
frame(ax_a)
serif_label(ax_a, '(a)', 186, 78)
for name, py in zip(section_names, [212, 493, 772]):
    serif_label(ax_a, name, 170, py, size=37, style='italic', ha='left')

# colour bar: the extension triangles eat into the axes width
cax = add_axes_px(129, 955.5, 1095, 970.5)
cbar = fig.colorbar(ScalarMappable(norm=elev_norm, cmap=elev_cmap), cax=cax, orientation='horizontal',
                    extend='both', extendfrac=0.013)
cbar.outline.set_linewidth(4.4)
cbar.outline.set_edgecolor('black')
cbar.set_ticks([-50, 0, 50], labels=['\u221250', '0', '50'])
cbar.set_ticks([-40, -30, -20, -10, 10, 20, 30, 40], minor=True)
cax.tick_params(which='major', direction='out', length=13, width=0.9, color='black', labelsize=TICK_FS, pad=13, bottom=True)
cax.tick_params(which='minor', direction='out', length=7, width=0.9, color='black', bottom=True)
set_xlabel_px(cax, 'Elevation (m)', 611, 1073)

# ---- (b) ----
ax_b = add_axes_px(1228, 24, 1829, 925)
ax_b.grid(axis='x', color='black', lw=0.9)
ax_b.set_axisbelow(True)
profile(ax_b, b_red_e, b_red_d, RED, 1.8)
profile(ax_b, b_blue3_e, b_blue3_d, BLUE, 1.8)
profile(ax_b, b_blue2_e, b_blue2_d, BLUE, 1.8)
profile(ax_b, b_blue1_e, b_blue1_d, BLUE, 1.8)
profile(ax_b, b_black_e, b_black_d, 'black', 2.8)
ax_b.hlines(section_y, 0, 30, color='black', lw=2.9, linestyles=(5.3, (7.05, 3.53)), zorder=8)
ax_b.set_xlim(0, 30)
ax_b.set_ylim(3.2, 0)
ax_b.set_xticks([0, 10, 20, 30])
ax_b.set_yticks([0, 1, 2, 3])
ax_b.tick_params(which='major', direction='out', length=12, width=0.9, color='black', labelsize=TICK_FS, top=True,
                 right=True, bottom=True, left=True, labelleft=False, labelright=True, pad=11)
ax_b.tick_params(axis='x', pad=13)
frame(ax_b)
serif_label(ax_b, '(b)', 1768, 78)
set_xlabel_px(ax_b, 'Elevation (m)', 1528, 1027)
set_ylabel_px(ax_b, 'Distance in shore direction (km)', 1925, 476)

# ---- (c) (d) (e) ----
panels = [
    ((126, 627), '(c)', 180, 'L(N4)', c_black_x, c_black_y,
     [(c_blue1_x, c_blue1_y), (c_blue2_x, c_blue2_y), (c_blue3_x, c_blue3_y)], [(c_red1_x, c_red1_y), (c_red2_x, c_red2_y)]),
    ((727, 1228), '(d)', 783, 'L(N5)', d_black_x, d_black_y,
     [(d_blue1_x, d_blue1_y), (d_blue2_x, d_blue2_y), (d_blue3_x, d_blue3_y)], [(d_red1_x, d_red1_y), (d_red2_x, d_red2_y)]),
    ((1327, 1829), '(e)', 1380, 'L(N6)', e_black_x, e_black_y,
     [(e_blue1_x, e_blue1_y), (e_blue2_x, e_blue2_y), (e_blue3_x, e_blue3_y)], [(e_red_x, e_red_y)]),
]
for i, ((x0, x1), tag, tag_px, name, black_x, black_y, blues, reds) in enumerate(panels):
    ax = add_axes_px(x0, 1176, x1, 1976)
    ax.grid(True, color='black', lw=0.9)
    ax.set_axisbelow(True)
    for xs, ys in reds:
        profile(ax, xs, ys, RED, 1.7)
    for xs, ys in blues:
        profile(ax, xs, ys, BLUE, 1.7)
    profile(ax, black_x, black_y, 'black', 3)
    ax.set_xlim(0, 4)
    ax.set_ylim(-5, 20)
    ax.set_xticks([0, 1, 2, 3, 4])
    ax.set_xticks([0.5, 1.5, 2.5, 3.5], minor=True)
    ax.set_yticks([0, 10, 20])
    ax.tick_params(which='major', direction='out', length=12, width=0.9, color='black', labelsize=TICK_FS, top=True,
                   right=True, bottom=True, left=True, labelleft=(i == 0), labelright=(i == 2), pad=11)
    ax.tick_params(axis='x', pad=13)
    ax.tick_params(which='minor', direction='out', length=6, width=0.9, color='black', top=True, bottom=True)
    frame(ax)
    serif_label(ax, tag, tag_px, 1221)
    serif_label(ax, name, x1 - 14, 1950, size=50, style='italic', ha='right')
    set_xlabel_px(ax, 'Distance in cross-shore direction (km)', (x0 + x1) / 2, 2079)
    if i == 0:
        set_ylabel_px(ax, 'Elevation (m)', 21, 1589)
    if i == 2:
        set_ylabel_px(ax, 'Elevation (m)', 1944, 1589)

fig.savefig('out.png', dpi=100)
